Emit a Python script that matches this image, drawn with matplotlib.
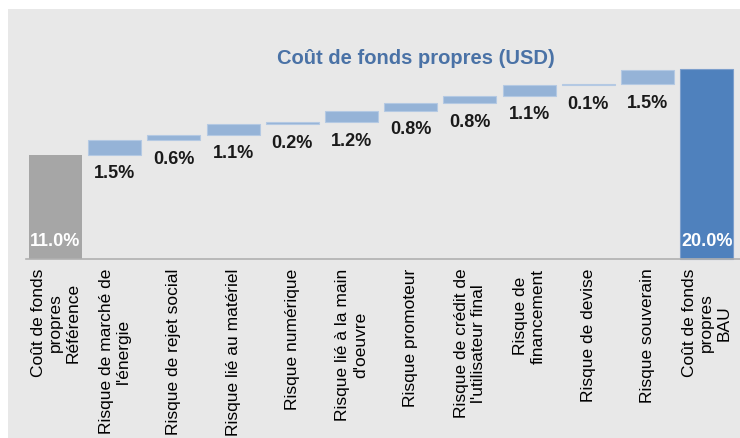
import matplotlib
matplotlib.use("Agg")
import matplotlib.pyplot as plt
from matplotlib.patches import Rectangle
import numpy as np

plt.rcParams['font.family'] = ['Liberation Sans', 'DejaVu Sans']

categories = [
    "Coût de fonds\npropres\nRéférence",
    "Risque de marché de\nl'énergie",
    "Risque de rejet social",
    "Risque lié au matériel",
    "Risque numérique",
    "Risque lié à la main\nd'oeuvre",
    "Risque promoteur",
    "Risque de crédit de\nl'utilisateur final",
    "Risque de\nfinancement",
    "Risque de devise",
    "Risque souverain",
    "Coût de fonds\npropres\nBAU",
]
base_value = 11.0
increments = [1.5, 0.6, 1.1, 0.2, 1.2, 0.8, 0.8, 1.1, 0.1, 1.5]
final_value = 20.0
title = "Coût de fonds propres (USD)"

W, H = 740, 438
fig = plt.figure(figsize=(W / 100, H / 100), dpi=100)
fig.patch.set_facecolor('white')

# light grey panel
bg = Rectangle((8 / W, 0), 1 - 8 / W, 1 - 9 / H,
               transform=fig.transFigure, facecolor='#e8e8e8',
               edgecolor='none', zorder=-10)
fig.add_artist(bg)

ax = fig.add_axes([26 / W, 1 - 259 / H, 714 / W, 190 / H])
ax.set_zorder(5)
ax.set_facecolor('none')

x = np.arange(len(categories))
width = 0.895

# base bar
ax.bar(x[0], base_value, width=width, color='#a6a6a6', edgecolor='none', zorder=2)
# increments
bottoms = base_value + np.concatenate([[0], np.cumsum(increments)[:-1]])
inc_x = x[1:-1]
ax.bar(inc_x, increments, bottom=bottoms, width=width, color='#95b3d7',
       edgecolor='#b4c9e3', linewidth=0.8, zorder=2, clip_on=False)
# final bar
ax.bar(x[-1], final_value, width=width, color='#4f81bd', edgecolor='#7d9fcc',
       linewidth=0.8, zorder=2, clip_on=False)

# value labels
for xi, b, v in zip(inc_x, bottoms, increments):
    ax.annotate(f"{v:.1f}%", xy=(xi, b), xytext=(0, -19 * 0.72),
                textcoords='offset points', ha='center', va='center',
                fontsize=13, fontweight='bold', color='#1a1a1a', zorder=3)
ax.annotate(f"{base_value:.1f}%", xy=(x[0], 0), xytext=(0, 17 * 0.72),
            textcoords='offset points', ha='center', va='center',
            fontsize=13, fontweight='bold', color='white', zorder=3)
ax.annotate(f"{final_value:.1f}%", xy=(x[-1], 0), xytext=(0, 17 * 0.72),
            textcoords='offset points', ha='center', va='center',
            fontsize=13, fontweight='bold', color='white', zorder=3)

ax.set_xlim(-0.498, 11.56)
ax.set_ylim(0, 20)
ax.set_xticks(x)
ax.set_xticklabels(categories, rotation=90, fontsize=12.5, ha='center', va='top',
                   multialignment='center', color='black')
ax.tick_params(axis='x', length=0, pad=7)
ax.set_yticks([])
for s in ['top', 'right', 'left']:
    ax.spines[s].set_visible(False)
ax.spines['bottom'].set_color('#b0b0b0')
ax.spines['bottom'].set_linewidth(1.2)

fig.text(416 / W, 1 - 58 / H, title, ha='center', va='center', fontsize=14.5,
         fontweight='bold', color='#4a72a6')

fig.savefig('out.png', dpi=100)
